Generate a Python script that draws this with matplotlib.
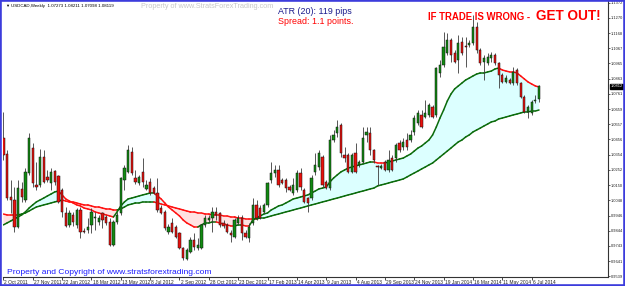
import matplotlib
matplotlib.use("Agg")
import matplotlib.pyplot as plt
from matplotlib.patches import Rectangle
from matplotlib.transforms import blended_transform_factory
import numpy as np

# ---------------- data ----------------
opens = [1.0465,1.0358,1.0070,1.0050,0.9869,1.0124,1.0050,1.0231,1.0398,1.0151,
         1.0151,1.0338,1.0204,1.0164,1.0244,1.0211,1.0117,0.9963,0.9883,0.9950,
         0.9883,0.9983,0.9842,0.9849,0.9883,0.9929,0.9903,0.9963,0.9936,0.9903,
         0.9749,0.9903,0.9963,1.0184,1.0238,1.0372,1.0197,1.0164,1.0238,1.0124,
         1.0171,1.0130,1.0097,0.9996,0.9970,0.9836,0.9896,0.9869,0.9829,0.9728,
         0.9655,0.9702,0.9782,0.9728,0.9728,0.9883,0.9916,0.9929,0.9970,0.9963,
         0.9896,0.9883,0.9829,0.9802,0.9896,0.9929,0.9829,0.9795,0.9896,1.0017,
         0.9996,0.9970,1.0017,1.0184,1.0231,1.0251,1.0184,1.0184,1.0137,1.0097,
         1.0117,1.0231,1.0117,1.0063,1.0063,1.0238,1.0271,1.0338,1.0171,1.0130,
         1.0452,1.0499,1.0553,1.0352,1.0352,1.0238,1.0365,1.0285,1.0305,1.0486,
         1.0499,1.0385,1.0278,1.0264,1.0305,1.0251,1.0331,1.0331,1.0432,1.0405,
         1.0452,1.0452,1.0506,1.0566,1.0620,1.0606,1.0620,1.0673,1.0620,1.0901,
         1.0955,1.1035,1.1122,1.1035,1.0988,1.1109,1.1082,1.1089,1.1102,1.1209,
         1.1055,1.0975,1.0968,1.1001,1.1022,1.0968,1.0888,1.0841,1.0854,1.0834,
         1.0921,1.0834,1.0740,1.0640,1.0633,1.0713,1.07273]
highs = [1.0640,1.0385,1.0184,1.0137,1.0184,1.0171,1.0264,1.0499,1.0432,1.0305,
         1.0392,1.0385,1.0251,1.0264,1.0251,1.0218,1.0130,1.0003,0.9983,0.9970,
         0.9996,1.0003,0.9862,0.9929,0.9996,0.9970,0.9950,0.9970,0.9950,0.9929,
         0.9916,0.9970,1.0204,1.0285,1.0419,1.0405,1.0251,1.0218,1.0331,1.0184,
         1.0197,1.0144,1.0197,1.0017,0.9983,0.9889,0.9929,0.9883,0.9836,0.9735,
         0.9728,0.9802,0.9829,0.9795,0.9889,0.9950,0.9950,1.0003,1.0003,0.9970,
         0.9916,0.9896,0.9849,0.9929,0.9950,0.9950,0.9849,0.9896,1.0063,1.0050,
         1.0017,1.0030,1.0171,1.0305,1.0285,1.0285,1.0197,1.0197,1.0151,1.0197,
         1.0251,1.0264,1.0130,1.0070,1.0218,1.0365,1.0385,1.0352,1.0184,1.0486,
         1.0519,1.0586,1.0566,1.0405,1.0365,1.0365,1.0432,1.0318,1.0539,1.0539,
         1.0539,1.0392,1.0285,1.0291,1.0318,1.0385,1.0352,1.0432,1.0452,1.0465,
         1.0499,1.0519,1.0620,1.0653,1.0653,1.0720,1.0700,1.0687,1.0941,1.0988,
         1.1176,1.1169,1.1135,1.1055,1.1156,1.1142,1.1142,1.1122,1.1290,1.1243,
         1.1068,1.1022,1.1035,1.1042,1.1035,1.0975,1.0901,1.0888,1.0867,1.0941,
         1.0934,1.0841,1.0754,1.0687,1.0720,1.0754,1.08211]
lows = [1.0318,1.0050,0.9963,0.9836,0.9862,1.0037,1.0037,1.0218,1.0137,1.0117,
        1.0137,1.0164,1.0171,1.0117,1.0151,1.0030,0.9936,0.9869,0.9869,0.9876,
        0.9862,0.9795,0.9829,0.9829,0.9829,0.9849,0.9883,0.9862,0.9883,0.9742,
        0.9742,0.9889,0.9950,1.0117,1.0231,1.0218,1.0157,1.0151,1.0137,1.0117,
        1.0084,1.0090,0.9970,0.9956,0.9849,0.9822,0.9829,0.9795,0.9722,0.9648,
        0.9648,0.9695,0.9715,0.9715,0.9722,0.9869,0.9903,0.9836,0.9916,0.9869,
        0.9862,0.9829,0.9769,0.9795,0.9889,0.9782,0.9795,0.9769,0.9883,0.9916,
        0.9923,0.9963,1.0003,1.0164,1.0204,1.0137,1.0157,1.0104,1.0110,1.0084,
        1.0104,1.0117,1.0030,0.9970,1.0050,1.0218,1.0251,1.0137,1.0124,1.0117,
        1.0439,1.0472,1.0338,1.0305,1.0231,1.0231,1.0231,1.0271,1.0298,1.0439,
        1.0352,1.0298,1.0151,1.0258,1.0244,1.0238,1.0244,1.0305,1.0372,1.0385,
        1.0385,1.0439,1.0486,1.0553,1.0532,1.0599,1.0606,1.0599,1.0606,1.0874,
        1.0941,1.1022,1.0975,1.0968,1.0901,1.1022,1.0941,1.1075,1.1089,1.1035,
        1.0955,1.0854,1.0955,1.0975,1.0955,1.0800,1.0834,1.0834,1.0827,1.0821,
        1.0821,1.0733,1.0633,1.0599,1.0620,1.0700,1.07098]
closes = [1.0352,1.0063,1.0050,0.9869,1.0130,1.0070,1.0238,1.0465,1.0164,1.0137,
          1.0338,1.0171,1.0184,1.0238,1.0171,1.0037,0.9970,0.9876,0.9963,0.9903,
          0.9983,0.9836,0.9836,0.9869,0.9970,0.9936,0.9929,0.9916,0.9896,0.9749,
          0.9903,0.9950,1.0197,1.0264,1.0385,1.0231,1.0171,1.0204,1.0171,1.0151,
          1.0097,1.0097,0.9983,0.9963,0.9862,0.9869,0.9836,0.9802,0.9728,0.9661,
          0.9715,0.9782,0.9735,0.9749,0.9883,0.9929,0.9929,0.9970,0.9950,0.9883,
          0.9876,0.9836,0.9816,0.9916,0.9929,0.9829,0.9802,0.9869,1.0017,0.9929,
          0.9929,1.0017,1.0164,1.0231,1.0251,1.0151,1.0164,1.0130,1.0117,1.0151,
          1.0231,1.0137,1.0037,1.0030,1.0197,1.0285,1.0365,1.0151,1.0130,1.0452,
          1.0486,1.0539,1.0365,1.0331,1.0238,1.0352,1.0238,1.0305,1.0465,1.0506,
          1.0385,1.0318,1.0271,1.0278,1.0251,1.0318,1.0251,1.0419,1.0385,1.0439,
          1.0405,1.0486,1.0599,1.0633,1.0539,1.0633,1.0687,1.0606,1.0934,1.0955,
          1.1075,1.1122,1.1022,1.0975,1.1102,1.1035,1.1075,1.1102,1.1209,1.1055,
          1.0968,1.1001,1.1008,1.1022,1.0968,1.0888,1.0841,1.0867,1.0834,1.0908,
          1.0834,1.0740,1.0640,1.0673,1.0707,1.0720,1.08119]
fast_ma = [0.9883,0.9896,0.9909,0.9923,0.9936,0.9950,0.9970,0.9996,1.0017,1.0037,
           1.0050,1.0063,1.0077,1.0090,1.0104,1.0110,1.0084,1.0057,1.0043,1.0030,
           1.0017,1.0010,0.9996,0.9990,0.9983,0.9970,0.9963,0.9956,0.9950,0.9943,
           0.9936,0.9970,1.0010,1.0037,1.0057,1.0063,1.0070,1.0077,1.0084,1.0090,
           1.0097,1.0097,1.0077,1.0057,1.0030,1.0003,0.9983,0.9963,0.9943,0.9916,
           0.9896,0.9883,0.9869,0.9869,0.9883,0.9896,0.9896,0.9903,0.9903,0.9896,
           0.9889,0.9883,0.9876,0.9876,0.9883,0.9883,0.9876,0.9876,0.9916,0.9929,
           0.9943,0.9956,0.9963,0.9983,0.9996,1.0010,1.0017,1.0030,1.0043,1.0057,
           1.0063,1.0070,1.0077,1.0084,1.0097,1.0110,1.0124,1.0130,1.0137,1.0171,
           1.0197,1.0218,1.0238,1.0251,1.0264,1.0271,1.0278,1.0285,1.0291,1.0298,
           1.0305,1.0305,1.0298,1.0298,1.0298,1.0305,1.0311,1.0318,1.0325,1.0331,
           1.0345,1.0358,1.0378,1.0398,1.0412,1.0432,1.0452,1.0486,1.0539,1.0599,
           1.0653,1.0713,1.0760,1.0794,1.0814,1.0834,1.0854,1.0867,1.0881,1.0894,
           1.0901,1.0901,1.0908,1.0914,1.0928,1.0934,1.0921,1.0914,1.0908,1.0908,
           1.0901,1.0881,1.0861,1.0841,1.0827,1.0814,1.0807]
slow_ma = [0.9956,0.9950,0.9950,0.9950,0.9950,0.9956,0.9963,0.9976,0.9990,1.0003,
           1.0010,1.0017,1.0023,1.0030,1.0037,1.0043,1.0050,1.0043,1.0037,1.0037,
           1.0030,1.0023,1.0017,1.0017,1.0010,1.0003,1.0003,0.9996,0.9990,0.9990,
           0.9983,0.9983,0.9990,1.0003,1.0017,1.0023,1.0030,1.0030,1.0037,1.0037,
           1.0037,1.0037,1.0030,1.0023,1.0017,1.0010,1.0003,0.9996,0.9990,0.9983,
           0.9976,0.9970,0.9970,0.9963,0.9963,0.9956,0.9956,0.9950,0.9950,0.9950,
           0.9943,0.9943,0.9936,0.9936,0.9929,0.9929,0.9923,0.9923,0.9923,0.9923,
           0.9929,0.9929,0.9936,0.9943,0.9950,0.9956,0.9963,0.9970,0.9976,0.9983,
           0.9990,0.9996,1.0003,1.0010,1.0017,1.0023,1.0030,1.0037,1.0043,1.0050,
           1.0057,1.0063,1.0070,1.0077,1.0084,1.0090,1.0097,1.0104,1.0110,1.0117,
           1.0124,1.0130,1.0144,1.0151,1.0157,1.0164,1.0171,1.0177,1.0184,1.0191,
           1.0204,1.0218,1.0231,1.0244,1.0258,1.0271,1.0285,1.0298,1.0318,1.0338,
           1.0358,1.0378,1.0398,1.0419,1.0439,1.0452,1.0472,1.0486,1.0506,1.0519,
           1.0532,1.0546,1.0559,1.0573,1.0579,1.0593,1.0599,1.0606,1.0613,1.0620,
           1.0626,1.0633,1.0640,1.0640,1.0646,1.0646,1.0653]
date_labels = ["2 Oct 2011", "27 Nov 2011", "22 Jan 2012", "18 Mar 2012", "13 May 2012",
               "8 Jul 2012", "2 Sep 2012", "28 Oct 2012", "23 Dec 2012", "17 Feb 2013",
               "14 Apr 2013", "9 Jun 2013", "4 Aug 2013", "29 Sep 2013", "24 Nov 2013",
               "19 Jan 2014", "16 Mar 2014", "11 May 2014", "6 Jul 2014"]
date_bars = [0, 8, 16, 24, 32, 40, 48, 56, 64, 72, 80, 88, 96, 104, 112, 120, 128, 136, 144]
ytick_vals = [1.1372, 1.1270, 1.1168, 1.1067, 1.0965, 1.0863, 1.0761, 1.0659, 1.0557, 1.0456,
              1.0354, 1.0252, 1.0150, 1.0048, 0.9946, 0.9844, 0.9743, 0.9641, 0.9539]
header = "USDCAD,Weekly  1.07273 1.08211 1.07098 1.08119"
last_price = "1.0812"

# ---------------- figure ----------------
W, H = 625, 286
fig = plt.figure(figsize=(W / 100, H / 100), dpi=100)
fig.patch.set_facecolor("white")
ax = fig.add_axes([3 / W, (H - 277) / H, (608 - 3) / W, (277 - 0) / H])
ax.set_facecolor("white")

n = len(closes)
x = np.arange(n)
o = np.array(opens); c = np.array(closes); hi = np.array(highs); lo = np.array(lows)
fm = np.array(fast_ma); sm = np.array(slow_ma)

GREEN_LINE = "#0b6b0b"
RED_LINE = "#ff1010"
ax.fill_between(x, fm, sm, where=fm >= sm, interpolate=True, color="#dcffff", lw=0, zorder=1)
ax.fill_between(x, fm, sm, where=fm < sm, interpolate=True, color="#ffe2e2", lw=0, zorder=1)


def draw_ma(vals):
    prev = GREEN_LINE
    for i in range(len(vals) - 1):
        d = vals[i + 1] - vals[i]
        col = GREEN_LINE if d > 0 else (RED_LINE if d < 0 else prev)
        prev = col
        ax.plot([i, i + 1], [vals[i], vals[i + 1]], color=col, lw=1.1,
                solid_capstyle="round", zorder=2)


draw_ma(sm)
draw_ma(fm)

# candles
up = c >= o
ax.vlines(x, lo, hi, color="#3a3a3a", lw=0.6, zorder=3)
body_bot = np.minimum(o, c)
body_h = np.maximum(np.abs(c - o), 0.00035)
cols = np.where(up, "#128a12", "#e8100c")
ax.bar(x, body_h, bottom=body_bot, width=0.62, color=cols, edgecolor="#111111",
       linewidth=0.35, zorder=4)

ax.set_xlim(-0.1, 164.8)
ax.set_ylim(0.9534, 1.1390)

FAM = ["Liberation Sans", "DejaVu Sans"]

# axes styling
for s in ["left", "top"]:
    ax.spines[s].set_visible(False)
ax.spines["right"].set_color("#333333")
ax.spines["bottom"].set_color("#333333")
ax.spines["right"].set_linewidth(0.8)
ax.spines["bottom"].set_linewidth(0.8)
ax.yaxis.tick_right()
ax.set_yticks(ytick_vals)
ax.set_yticklabels([f"{v:.4f}" for v in ytick_vals], family=FAM)
ax.tick_params(axis="y", direction="out", length=1.5, width=0.5, pad=0.6,
               labelsize=2.9, colors="#222222")
ax.set_xticks(date_bars)
ax.set_xticklabels([])
ax.tick_params(axis="x", direction="out", length=2, width=0.5)
trans = blended_transform_factory(ax.transData, ax.transAxes)
for b, lab in zip(date_bars, date_labels):
    ax.text(b + 0.3, -0.012, lab, transform=trans, ha="left", va="top",
            fontsize=3.5, color="#222222", family=FAM)

# last price box
ax.text(1.004, closes[-1], last_price, transform=blended_transform_factory(ax.transAxes, ax.transData),
        ha="left", va="center", fontsize=2.9, color="white", family=FAM,
        bbox=dict(boxstyle="square,pad=0.12", fc="black", ec="black"), clip_on=False)


def ftext(px, py, s, **kw):
    fig.text(px / W, 1 - py / H, s, **kw)


ftext(5, 6, "\u25BC", fontsize=3.0, color="black", family=FAM, va="center")
ftext(11, 6, header, fontsize=3.2, color="black", family=FAM, va="center")
ftext(141, 7, "Property of www.StratsForexTrading.com", fontsize=5.2, color="#c8c8c8",
      family=FAM, va="center")
ftext(278, 11, "ATR (20): 119 pips", fontsize=6.4, color="#1a1a8c", family=FAM, va="center")
ftext(278, 21, "Spread: 1.1 points.", fontsize=6.4, color="#ff0000", family=FAM, va="center")
ftext(428, 17, "IF TRADE IS WRONG - ", fontsize=6.9, color="#ff0000", family=FAM,
      weight="bold", va="center")
ftext(536, 16, "GET OUT!", fontsize=9.8, color="#ff0000", family=FAM, weight="bold", va="center")
ftext(7, 272, "Property and Copyright of www.stratsforextrading.com", fontsize=6.1,
      color="#1c1cff", family=FAM, va="center")

# blue frame
fig.patches.append(Rectangle((0, 0), 1, 1, transform=fig.transFigure, fill=False,
                             edgecolor="#3c3cdc", lw=2.6, zorder=10))

fig.savefig("out.png", dpi=100)
